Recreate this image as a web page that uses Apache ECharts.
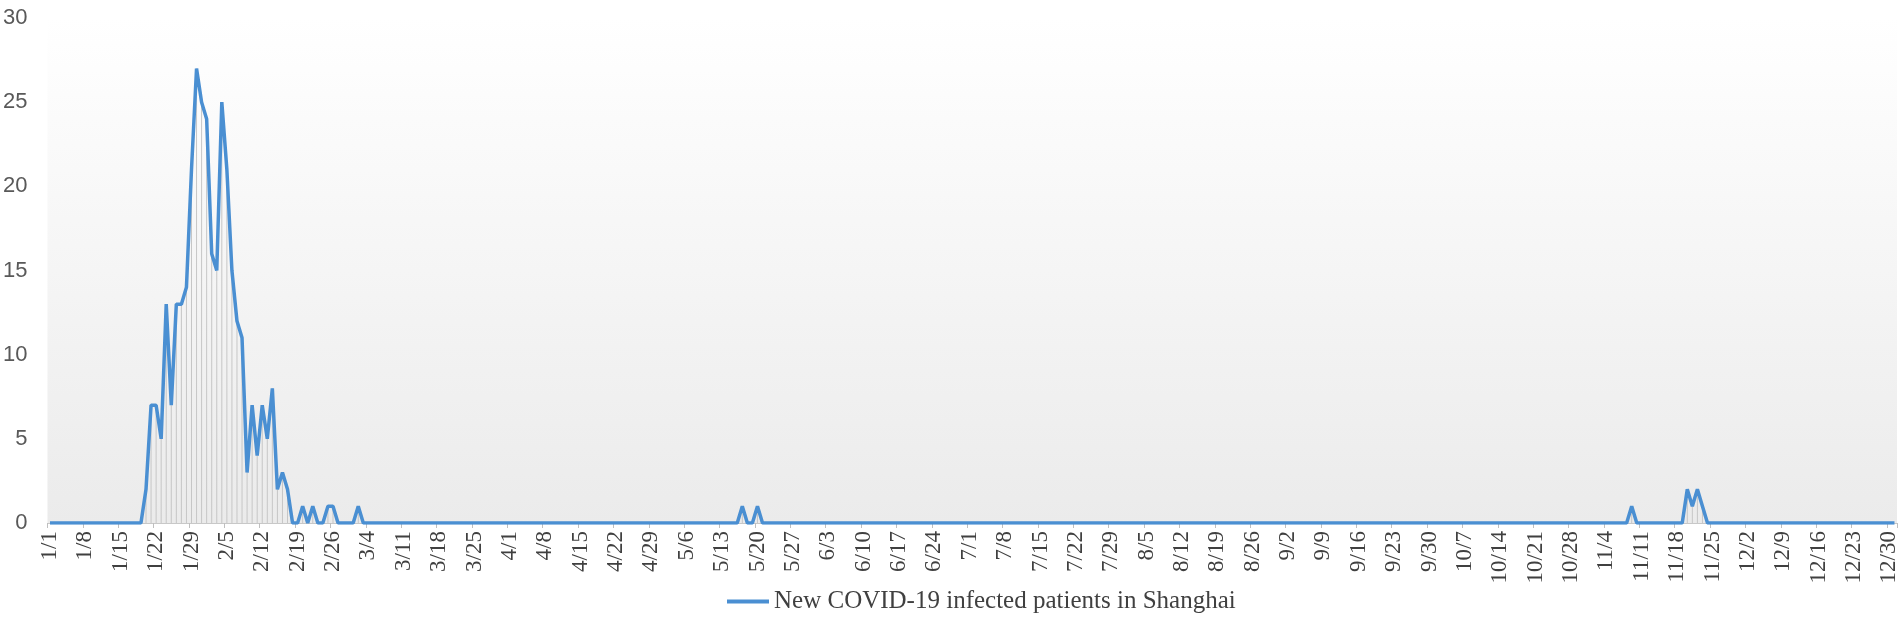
<!DOCTYPE html>
<html>
<head>
<meta charset="utf-8">
<script src="https://cdn.jsdelivr.net/npm/echarts@6/dist/echarts.min.js"></script>
<style>
html,body{margin:0;padding:0;background:#fff;}
#chart{width:1902px;height:617px;}
</style>
</head>
<body>
<div id="chart"></div>
<script>
// 2020 daily categories (month lengths of a leap year)
var monthLengths = [31,29,31,30,31,30,31,31,30,31,30,31];
var categories = [];
for (var m = 0; m < 12; m++) {
  for (var d = 1; d <= monthLengths[m]; d++) categories.push((m + 1) + '/' + d);
}

var seriesName = 'New COVID-19 infected patients in Shanghai';

var jan = [0,0,0,0,0,0,0,0,0,0, 0,0,0,0,0,0,0,0,0,2, 7,7,5,13,7,13,13,14,21,27, 25];
var feb = [24,16,15,25,21,15,12,11,3,7, 4,7,5,8,2,3,2,0,0,1, 0,1,0,0,1,1,0,0,0];
var mar = [0,1,0,0,0,0,0,0,0,0, 0,0,0,0,0,0,0,0,0,0, 0,0,0,0,0,0,0,0,0,0, 0];
var apr = [0,0,0,0,0,0,0,0,0,0, 0,0,0,0,0,0,0,0,0,0, 0,0,0,0,0,0,0,0,0,0];
var may = [0,0,0,0,0,0,0,0,0,0, 0,0,0,0,0,0,1,0,0,1, 0,0,0,0,0,0,0,0,0,0, 0];
var jun = [0,0,0,0,0,0,0,0,0,0, 0,0,0,0,0,0,0,0,0,0, 0,0,0,0,0,0,0,0,0,0];
var jul = [0,0,0,0,0,0,0,0,0,0, 0,0,0,0,0,0,0,0,0,0, 0,0,0,0,0,0,0,0,0,0, 0];
var aug = [0,0,0,0,0,0,0,0,0,0, 0,0,0,0,0,0,0,0,0,0, 0,0,0,0,0,0,0,0,0,0, 0];
var sep = [0,0,0,0,0,0,0,0,0,0, 0,0,0,0,0,0,0,0,0,0, 0,0,0,0,0,0,0,0,0,0];
var oct = [0,0,0,0,0,0,0,0,0,0, 0,0,0,0,0,0,0,0,0,0, 0,0,0,0,0,0,0,0,0,0, 0];
var nov = [0,0,0,0,0,0,0,0,1,0, 0,0,0,0,0,0,0,0,0,2, 1,2,1,0,0,0,0,0,0,0];
var dec = [0,0,0,0,0,0,0,0,0,0, 0,0,0,0,0,0,0,0,0,0, 0,0,0,0,0,0,0,0,0,0, 0];

var values = [].concat(jan, feb, mar, apr, may, jun, jul, aug, sep, oct, nov, dec);

var yTicks = [0, 5, 10, 15, 20, 25, 30];

var chart = echarts.init(document.getElementById('chart'), null, {renderer: 'canvas'});
chart.setOption({
  animation: false,
  grid: {
    left: 47, right: 5, top: 18, bottom: 94,
    show: true,
    borderWidth: 0,
    backgroundColor: new echarts.graphic.LinearGradient(0, 0, 0, 1, [
      {offset: 0, color: '#ffffff'},
      {offset: 1, color: '#ebebeb'}
    ])
  },
  legend: {
    data: [seriesName],
    left: 722, top: 584,
    icon: 'rect',
    itemWidth: 42, itemHeight: 4,
    textStyle: {fontFamily: 'Liberation Serif', fontSize: 25, color: '#404040'}
  },
  xAxis: {
    type: 'category',
    data: categories,
    boundaryGap: true,
    axisLine: {show: true, lineStyle: {color: '#c8c8c8', width: 1}},
    axisTick: {show: true, interval: 6, length: 5, lineStyle: {color: '#bfbfbf'}},
    axisLabel: {
      interval: 6, rotate: 90, margin: 8,
      fontFamily: 'Liberation Serif', fontSize: 23, color: '#404040'
    },
    splitLine: {show: false}
  },
  yAxis: {
    type: 'value',
    min: yTicks[0], max: yTicks[yTicks.length - 1], interval: 5,
    axisLine: {show: false},
    axisTick: {show: false},
    splitLine: {show: false},
    axisLabel: {margin: 20, fontFamily: 'Liberation Sans', fontSize: 22, color: '#595959'}
  },
  series: [
    {
      name: 'drop',
      type: 'bar',
      data: values,
      barWidth: 1,
      itemStyle: {color: '#c6c6c6'},
      silent: true,
      z: 1
    },
    {
      name: seriesName,
      type: 'line',
      data: values,
      showSymbol: false,
      symbol: 'none',
      lineStyle: {color: '#4a8fd2', width: 3.5},
      itemStyle: {color: '#4a8fd2'},
      z: 3
    }
  ]
});
</script>
</body>
</html>
